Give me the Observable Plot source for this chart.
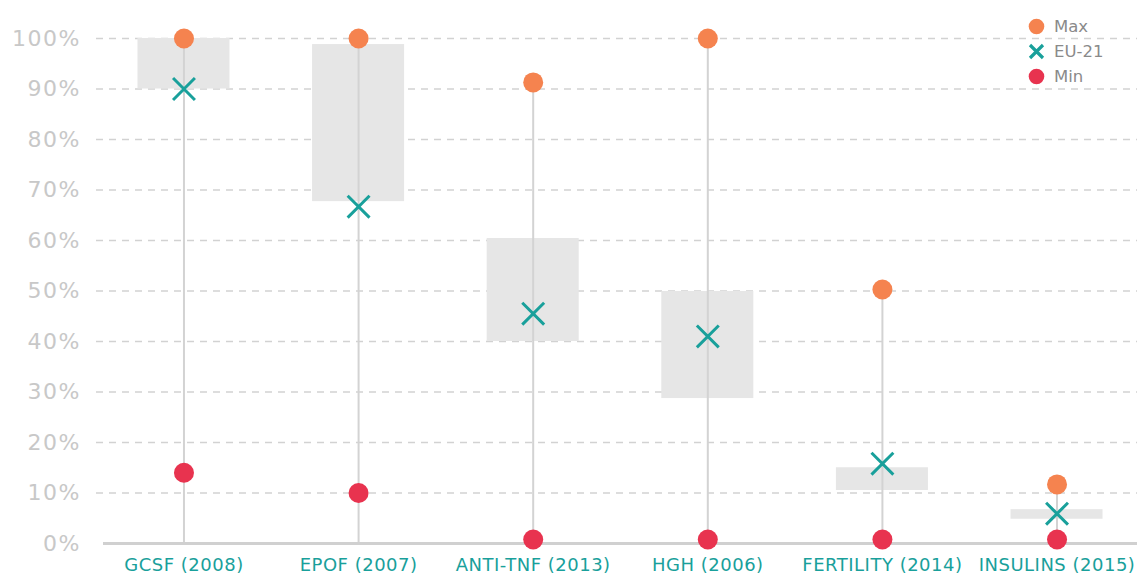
<!DOCTYPE html>
<html><head><meta charset="utf-8">
<script src="https://cdn.jsdelivr.net/npm/d3@7"></script>
<script src="https://cdn.jsdelivr.net/npm/@observablehq/plot@0.6"></script>
<style>
html,body{margin:0;padding:0;background:#fff;overflow:hidden}
#wrap{position:relative;width:1137px;height:577px;font-family:"DejaVu Sans",sans-serif}
#legend{position:absolute;left:1028px;top:14px;font-size:16.5px;color:#8a8a8a}
.item{display:flex;align-items:center;height:25px}
.item svg{margin-right:9px}
g[aria-label="y-axis tick label"]{letter-spacing:1.5px}
g[aria-label="x-axis tick label"]{letter-spacing:0.5px}
</style></head><body>
<div id="wrap"><div id="legend"></div></div>
<script>
const categories = ["GCSF (2008)", "EPOF (2007)", "ANTI-TNF (2013)", "HGH (2006)", "FERTILITY (2014)", "INSULINS (2015)"];
const maxValues = [100, 100, 91.3, 100, 50.3, 11.7];
const euValues = [90, 66.7, 45.5, 41, 15.8, 5.9];
const minValues = [14, 10, 0.8, 0.8, 0.8, 0.8];
const boxLow = [90, 67.7, 40, 28.7, 10.5, 4.8];
const boxHigh = [100, 98.8, 60.4, 49.9, 15, 6.7];
const yTicks = [0, 10, 20, 30, 40, 50, 60, 70, 80, 90, 100];
const seriesNames = ["Max", "EU-21", "Min"];

const COL_MAX = "#f5834f", COL_EU = "#19a09b", COL_MIN = "#e8334f";

const data = categories.map((c, i) => ({
  cat: c, max: maxValues[i], eu: euValues[i], min: minValues[i], lo: boxLow[i], hi: boxHigh[i], zero: 0
}));

const chart = Plot.plot({
  width: 1137,
  height: 577,
  marginLeft: 96,
  marginRight: 0,
  marginTop: 38,
  marginBottom: 34,
  style: {fontFamily: "'DejaVu Sans', sans-serif", background: "#fff"},
  x: {domain: categories, range: [96, 1144], paddingInner: 0.473, paddingOuter: 0.2375, round: false, label: null},
  y: {domain: [0, 100], label: null},
  marks: [
    Plot.ruleY(yTicks.filter(t => t > 0), {stroke: "#d2d2d2", strokeWidth: 1.5, strokeDasharray: "7,6"}),
    Plot.rectY(data, {x: "cat", y1: "lo", y2: "hi", fill: "#e6e6e6"}),
    Plot.ruleX(data, {x: "cat", y1: "zero", y2: "max", stroke: "#d3d3d3", strokeWidth: 2}),
    Plot.ruleY([0], {stroke: "#d0d0d0", strokeWidth: 3, dx: 7}),
    Plot.dot(data, {x: "cat", y: "max", r: 10, fill: COL_MAX}),
    Plot.dot(data, {x: "cat", y: "min", r: 10, fill: COL_MIN}),
    Plot.dot(data, {x: "cat", y: "eu", symbol: "times", r: 10, stroke: COL_EU, strokeWidth: 3}),
    Plot.axisY(yTicks, {tickSize: 0, tickPadding: 15.5, tickFormat: d => d + "%", fontSize: 22, color: "#c8c8c8", label: null}),
    Plot.axisX({tickSize: 0, tickPadding: 15, fontSize: 18, color: COL_EU, label: null})
  ]
});
document.getElementById("wrap").prepend(chart);

const legend = document.getElementById("legend");
const symbols = {
  "Max": `<svg width="17" height="17"><circle cx="8.5" cy="8.5" r="7.8" fill="${COL_MAX}"/></svg>`,
  "EU-21": `<svg width="17" height="17"><path d="M2,2L15,15M15,2L2,15" stroke="${COL_EU}" stroke-width="3.2"/></svg>`,
  "Min": `<svg width="17" height="17"><circle cx="8.5" cy="8.5" r="7.8" fill="${COL_MIN}"/></svg>`
};
seriesNames.forEach(n => {
  const d = document.createElement("div");
  d.className = "item";
  d.innerHTML = symbols[n] + `<span>${n}</span>`;
  legend.appendChild(d);
});
</script>
</body></html>
